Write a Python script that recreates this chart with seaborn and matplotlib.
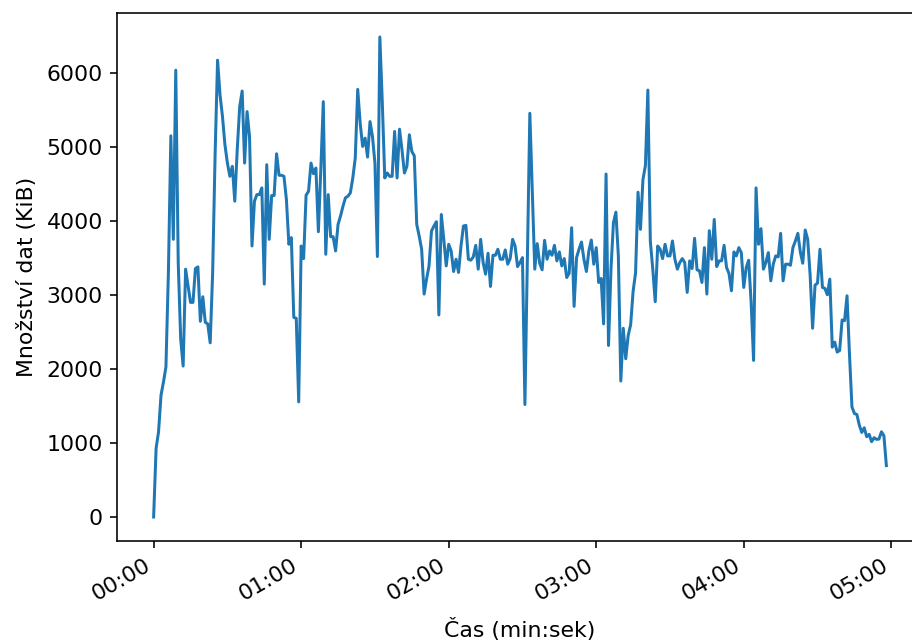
import numpy as np
import pandas as pd
import matplotlib
matplotlib.use("Agg")
import matplotlib.pyplot as plt
import matplotlib.dates as mdates
import seaborn as sns

# KiB transferred per second
kib = [
    0, 928, 1152, 1646, 1825, 2027, 3300, 5152, 3753, 6040, 3440, 2408, 2040,
    3350, 3125, 2901, 2901, 3358, 3381, 2645, 2977, 2632, 2610, 2354, 3300, 4900,
    6175, 5704, 5412, 5031, 4784, 4605, 4740, 4269, 4964, 5547, 5758, 4784, 5480,
    5143, 3663, 4269, 4358, 4358, 4448, 3148, 4762, 3753, 4345, 4345, 4910, 4619,
    4619, 4605, 4291, 3686, 3776, 2699, 2686, 1556, 3663, 3493, 4350, 4403, 4784,
    4641, 4717, 3856, 4700, 5614, 3551, 4358, 3789, 3789, 3596, 3955, 4067, 4200,
    4314, 4336, 4381, 4583, 4852, 5780, 5323, 5009, 5121, 4865, 5345, 5143, 4784,
    3520, 6488, 5600, 4583, 4650, 4605, 4605, 5211, 4583, 5242, 4964, 4650, 4740,
    5166, 4942, 4883, 3955, 3798, 3619, 3013, 3215, 3394, 3865, 3933, 3991, 2731,
    4089, 3753, 3394, 3686, 3596, 3318, 3484, 3305, 3663, 3933, 3942, 3484, 3471,
    3516, 3672, 3350, 3753, 3439, 3282, 3565, 3116, 3538, 3538, 3619, 3484, 3484,
    3610, 3417, 3493, 3753, 3663, 3385, 3439, 3506, 1520, 3490, 5457, 4400, 3350,
    3695, 3430, 3341, 3740, 3484, 3596, 3538, 3672, 3462, 3583, 3394, 3493, 3237,
    3296, 3910, 2847, 3506, 3619, 3717, 3484, 3318, 3596, 3744, 3417, 3641, 3170,
    3224, 2610, 4636, 2318, 3350, 3977, 4121, 3529, 1838, 2551, 2139, 2453, 2600,
    3050, 3300, 4390, 3888, 4560, 4749, 5771, 3731, 3350, 2910, 3663, 3619, 3493,
    3686, 3529, 3529, 3731, 3484, 3350, 3439, 3493, 3439, 3036, 3462, 3359, 3767,
    3341, 3327, 3170, 3641, 3013, 3870, 3484, 4022, 3385, 3462, 3462, 3672, 3372,
    3291, 3058, 3583, 3529, 3641, 3574, 3103, 3372, 3471, 2900, 2116, 4448, 3686,
    3897, 3350, 3439, 3574, 3192, 3417, 3529, 3516, 3834, 3192, 3417, 3417, 3403,
    3641, 3731, 3834, 3583, 3430, 3879, 3753, 3269, 2551, 3134, 3161, 3619, 3103,
    3090, 3004, 3215, 2296, 2363, 2229, 2251, 2663, 2654, 2990, 2200, 1489, 1399,
    1386, 1242, 1143, 1206, 1085, 1117, 1018, 1072, 1049, 1054, 1152, 1099, 695,
]
seconds = list(range(len(kib)))  # one sample per second

x_label = "Čas (min:sek)"
y_label = "Množství dat (KiB)"

plt.rcParams["font.size"] = 11

times = pd.Timestamp("2000-01-01") + pd.to_timedelta(seconds, unit="s")
df = pd.DataFrame({"cas": times, "kib": kib})

fig = plt.figure(figsize=(912 / 144, 643 / 144), dpi=144)
# the reference image is cropped on the right: the axes extend past the edge
ax = fig.add_axes([117 / 912, 1 - 541 / 643, (923 - 117) / 912, (541 - 13) / 643])
sns.lineplot(data=df, x="cas", y="kib", ax=ax, color="#1f77b4", linewidth=1.5)

ax.xaxis.set_major_locator(mdates.MinuteLocator())
ax.xaxis.set_major_formatter(mdates.DateFormatter("%M:%S"))
for lbl in ax.get_xticklabels():
    lbl.set_rotation(30)
    lbl.set_ha("right")
ax.set_xlabel(x_label, labelpad=7)
ax.set_ylabel(y_label, labelpad=5)

fig.savefig("out.png", dpi=144)
